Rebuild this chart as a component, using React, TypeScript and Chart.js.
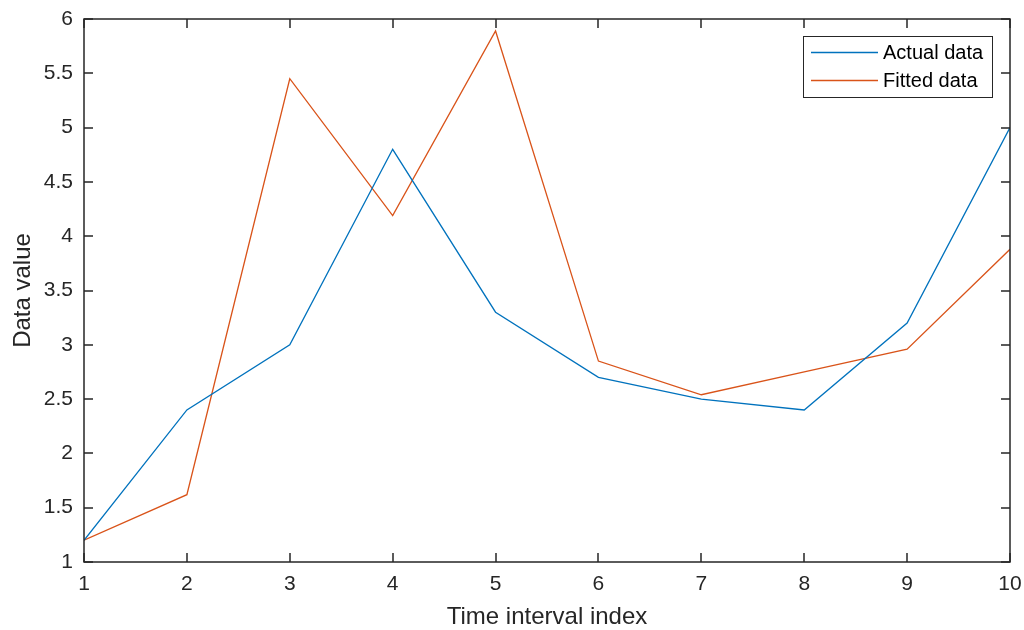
import React, { useEffect, useRef } from "react";
import { Chart, registerables } from "chart.js";

Chart.register(...registerables);

const xValues = [1, 2, 3, 4, 5, 6, 7, 8, 9, 10];
const actualData = [1.2, 2.4, 3.0, 4.8, 3.3, 2.7, 2.5, 2.4, 3.2, 5.0];
const fittedData = [1.2, 1.62, 5.45, 4.19, 5.89, 2.85, 2.54, 2.75, 2.96, 3.88];
const seriesNames = ["Actual data", "Fitted data"];
const seriesColors = ["#0072BD", "#D95319"];
const xTitle = "Time interval index";
const yTitle = "Data value";

const FONT = "'Liberation Sans', Arial, Helvetica, sans-serif";
const AXIS = "#262626";

const boxPlugin = {
  id: "matlabBox",
  afterDatasetsDraw(chart: any) {
    const { ctx, chartArea, scales } = chart;
    const { left, right, top, bottom } = chartArea;
    ctx.save();
    ctx.strokeStyle = AXIS;
    ctx.lineWidth = 1.5;
    ctx.strokeRect(left, top, right - left, bottom - top);
    const tl = 9;
    ctx.beginPath();
    scales.x.ticks.forEach((t: any) => {
      const px = Math.round(scales.x.getPixelForValue(t.value));
      ctx.moveTo(px, bottom);
      ctx.lineTo(px, bottom - tl);
      ctx.moveTo(px, top);
      ctx.lineTo(px, top + tl);
    });
    scales.y.ticks.forEach((t: any) => {
      const py = Math.round(scales.y.getPixelForValue(t.value));
      ctx.moveTo(left, py);
      ctx.lineTo(left + tl, py);
      ctx.moveTo(right, py);
      ctx.lineTo(right - tl, py);
    });
    ctx.stroke();

    // legend
    const lx = 803, ly = 36, lw = 189, lh = 61;
    ctx.fillStyle = "#ffffff";
    ctx.fillRect(lx, ly, lw, lh);
    ctx.strokeStyle = "#262626";
    ctx.lineWidth = 1;
    ctx.strokeRect(lx + 0.5, ly + 0.5, lw, lh);
    ctx.font = `20px ${FONT}`;
    ctx.textBaseline = "middle";
    ctx.textAlign = "left";
    seriesNames.forEach((name, i) => {
      const cy = ly + 16 + i * 28;
      ctx.strokeStyle = seriesColors[i];
      ctx.lineWidth = 1.3;
      ctx.beginPath();
      ctx.moveTo(lx + 8, cy + 0.5);
      ctx.lineTo(lx + 75, cy + 0.5);
      ctx.stroke();
      ctx.fillStyle = "#000000";
      ctx.fillText(name, lx + 80, cy + 1);
    });
    ctx.restore();
  },
};

export default function App() {
  const ref = useRef<HTMLCanvasElement | null>(null);
  useEffect(() => {
    if (!ref.current) return;
    const chart = new Chart(ref.current, {
      type: "line",
      data: {
        datasets: [
          {
            label: seriesNames[0],
            data: xValues.map((x, i) => ({ x, y: actualData[i] })),
            borderColor: seriesColors[0],
            borderWidth: 1.3,
            pointRadius: 0,
            tension: 0,
            fill: false,
          },
          {
            label: seriesNames[1],
            data: xValues.map((x, i) => ({ x, y: fittedData[i] })),
            borderColor: seriesColors[1],
            borderWidth: 1.3,
            pointRadius: 0,
            tension: 0,
            fill: false,
          },
        ],
      },
      options: {
        animation: false,
        responsive: false,
        devicePixelRatio: 1,
        layout: { padding: { top: 19, right: 14, left: 0, bottom: 0 } },
        plugins: { legend: { display: false }, tooltip: { enabled: false } },
        scales: {
          x: {
            type: "linear",
            min: 1,
            max: 10,
            border: { display: false },
            grid: { display: false, drawTicks: false },
            ticks: {
              stepSize: 1,
              padding: 10,
              color: AXIS,
              font: { family: FONT, size: 21 },
              maxRotation: 0,
              callback: (v: any) => String(v),
            },
            title: {
              display: true,
              text: xTitle,
              color: AXIS,
              font: { family: FONT, size: 24, lineHeight: 1.05 },
              padding: { top: 4, bottom: 0 },
            },
            afterFit: (s: any) => {
              s.height = 68;
              s.paddingLeft = 0;
              s.paddingRight = 0;
            },
          },
          y: {
            type: "linear",
            min: 1,
            max: 6,
            border: { display: false },
            grid: { display: false, drawTicks: false },
            ticks: {
              stepSize: 0.5,
              padding: 11,
              color: AXIS,
              font: { family: FONT, size: 21 },
              callback: (v: any) => String(v),
            },
            title: {
              display: true,
              text: yTitle,
              color: AXIS,
              font: { family: FONT, size: 24 },
              padding: { top: 9, bottom: 0 },
            },
            afterFit: (s: any) => {
              s.width = 84;
              s.paddingTop = 0;
              s.paddingBottom = 0;
            },
          },
        },
      },
      plugins: [boxPlugin],
    } as any);
    return () => chart.destroy();
  }, []);
  return (
    <div style={{ position: "fixed", left: 0, top: 0, width: 1024, height: 630, background: "#fff" }}>
      <canvas ref={ref} width={1024} height={630} />
    </div>
  );
}
